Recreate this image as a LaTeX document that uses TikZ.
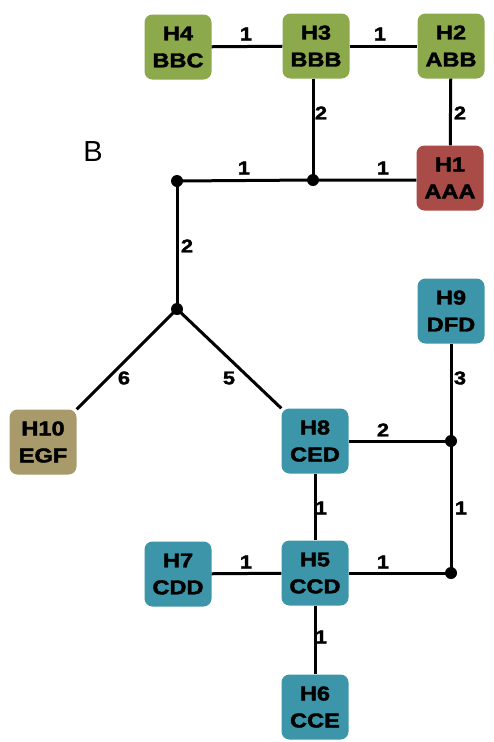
\documentclass[tikz,border=0pt]{standalone}
\usepackage{fontspec}
\setmainfont{Liberation Sans}
\newfontfamily\heavyfont{Liberation Sans Bold}[FakeBold=2,FakeStretch=1.18]
\begin{document}
\begin{tikzpicture}[x=1pt,y=-1pt,
  hbox/.style={rounded corners=8pt, minimum width=67pt, minimum height=65pt, inner sep=0pt,
    align=center, font=\heavyfont\fontsize{20}{27}\selectfont, text=black},
  green/.style={hbox, fill=hgreen},
  red/.style={hbox, fill=hred},
  teal/.style={hbox, fill=hteal},
  tan/.style={hbox, fill=htan},
  dot/.style={circle, fill=black, inner sep=0pt, minimum size=12pt},
  edge/.style={line width=3pt, black},
  lab/.style={font=\heavyfont\fontsize{18.5}{19}\selectfont, inner sep=0pt}]
\definecolor{hgreen}{HTML}{8CA94C}
\definecolor{hred}{HTML}{A94B46}
\definecolor{hteal}{HTML}{3C95A8}
\definecolor{htan}{HTML}{A89A6B}
\useasboundingbox (0,0) rectangle (493,742);
% nodes
\node[green] (H4) at (178,47) {H4\\BBC};
\node[green] (H3) at (316,46) {H3\\BBB};
\node[green] (H2) at (451,46) {H2\\ABB};
\node[red] (H1) at (450,178) {H1\\AAA};
\node[teal] (H9) at (451,311) {H9\\DFD};
\node[tan] (H10) at (43,442) {H10\\EGF};
\node[teal] (H8) at (315,441) {H8\\CED};
\node[teal] (H7) at (178,574) {H7\\CDD};
\node[teal] (H5) at (315,573) {H5\\CCD};
\node[teal] (H6) at (315,707) {H6\\CCE};
\coordinate (dA) at (313,180);
\coordinate (dB) at (177,181);
\coordinate (dC) at (177,309);
\coordinate (dD) at (451,441);
\coordinate (dE) at (451,573);
\node[font=\fontsize{29}{29}\selectfont] (B) at (93,152) {B};
% edges
\draw[edge] (H4) -- (H3);
\draw[edge] (H3) -- (H2);
\draw[edge] (H3.south -| dA) -- (dA);
\draw[edge] (H2) -- (H1);
\draw[edge] (dB) -- (dA) -- (dA -| H1.west);
\draw[edge] (dB) -- (dC);
\draw[edge] (dC) -- (H10.north east);
\draw[edge] (dC) -- (H8.north west);
\draw[edge] (H9) -- (dD);
\draw[edge] (H8) -- (dD);
\draw[edge] (dD) -- (dE);
\draw[edge] (H8) -- (H5);
\draw[edge] (H7) -- (H5);
\draw[edge] (H5) -- (dE);
\draw[edge] (H5) -- (H6);
\node[dot] (nA) at (dA) {};
\node[dot] (nB) at (dB) {};
\node[dot] (nC) at (dC) {};
\node[dot] (nD) at (dD) {};
\node[dot] (nE) at (dE) {};
% labels
\node[lab] at (246,34) {1};
\node[lab] at (380,34) {1};
\node[lab] at (321,113) {2};
\node[lab] at (460,113) {2};
\node[lab] at (244,168) {1};
\node[lab] at (383,168) {1};
\node[lab] at (187,246) {2};
\node[lab] at (124,378) {6};
\node[lab] at (229,378) {5};
\node[lab] at (460,378) {3};
\node[lab] at (383,430) {2};
\node[lab] at (321,508) {1};
\node[lab] at (461,508) {1};
\node[lab] at (246,562) {1};
\node[lab] at (383,562) {1};
\node[lab] at (321,637) {1};
\end{tikzpicture}
\end{document}
